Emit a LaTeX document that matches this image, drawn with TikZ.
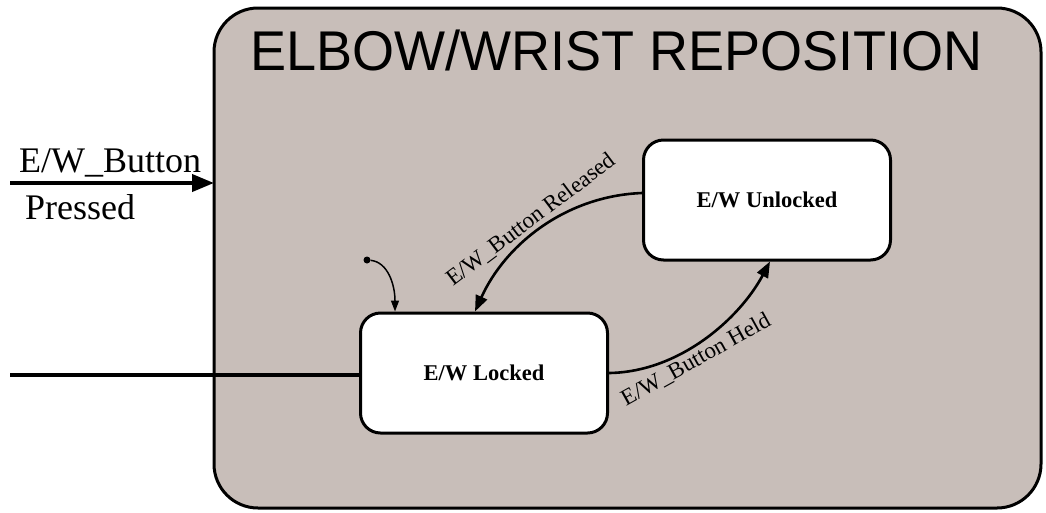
\documentclass[tikz,border=0pt]{standalone}
\usepackage{fontspec}
\setmainfont{Liberation Serif}
\setsansfont{Liberation Sans}
\usetikzlibrary{arrows.meta,calc}
\definecolor{superfill}{RGB}{200,190,185}
\tikzset{
  superstate/.style={draw=black,line width=3pt,fill=superfill,rounded corners=44pt},
  statebox/.style={draw=black,line width=3pt,fill=white,rounded corners=20pt,
    minimum width=247pt,minimum height=120pt,inner sep=0pt,
    font=\fontsize{22.5}{24}\selectfont\bfseries},
  trans/.style={line width=2.6pt,-{Triangle[length=16pt,width=12pt]}},
  entry/.style={line width=4pt},
  lbl/.style={font=\fontsize{23}{25}\selectfont,inner sep=1pt},
  entrylbl/.style={font=\fontsize{36}{38}\selectfont,inner sep=0pt}
}
\begin{document}
\begin{tikzpicture}[x=1pt,y=-1pt]
\useasboundingbox (0,0) rectangle (1046,512);
% composite state
\draw[superstate] (214,8) rectangle (1041,508);
\coordinate (boxw) at (214,183);
\node[font=\sffamily\fontsize{56}{60}\selectfont,anchor=base west,inner sep=0pt,xscale=0.965]
  (title) at (250,70) {ELBOW/WRIST REPOSITION};
% substates
\node[statebox] (un) at (767,200) {E/W Unlocked};
\node[statebox] (lk) at (484,373) {E/W Locked};
% external entry
\coordinate (ein) at (10,183);
\draw[entry,-{Triangle[length=22pt,width=17pt]}] (ein) -- (boxw);
\node[entrylbl,anchor=base west] (elbl1) at (19,172) {E/W\_Button};
\node[entrylbl,anchor=base west] (elbl2) at (25,219) {Pressed};
\coordinate (ein2) at (10,375);
\draw[line width=3.5pt] (ein2) -- (lk.west |- ein2);
% initial pseudostate
\node[circle,fill=black,inner sep=0pt,minimum size=7pt] (init) at (367,260) {};
\draw[line width=1.5pt,-{Triangle[length=11pt,width=8pt]}]
  (init) .. controls (388,262) and (395,285) .. ([xshift=-89pt]lk.north);
% transitions
\draw[trans] ([yshift=7pt]un.west) .. controls (565,196) and (505,245) .. ([xshift=-9pt]lk.north);
\draw[trans] (lk.east) .. controls (680,372) and (740,318) .. ([xshift=3pt]un.south);
\node[lbl,rotate=37] (rel) at (531,220) {E/W\_Button Released};
\node[lbl,rotate=29] (held) at (696,360) {E/W\_Button Held};
\end{tikzpicture}
\end{document}
